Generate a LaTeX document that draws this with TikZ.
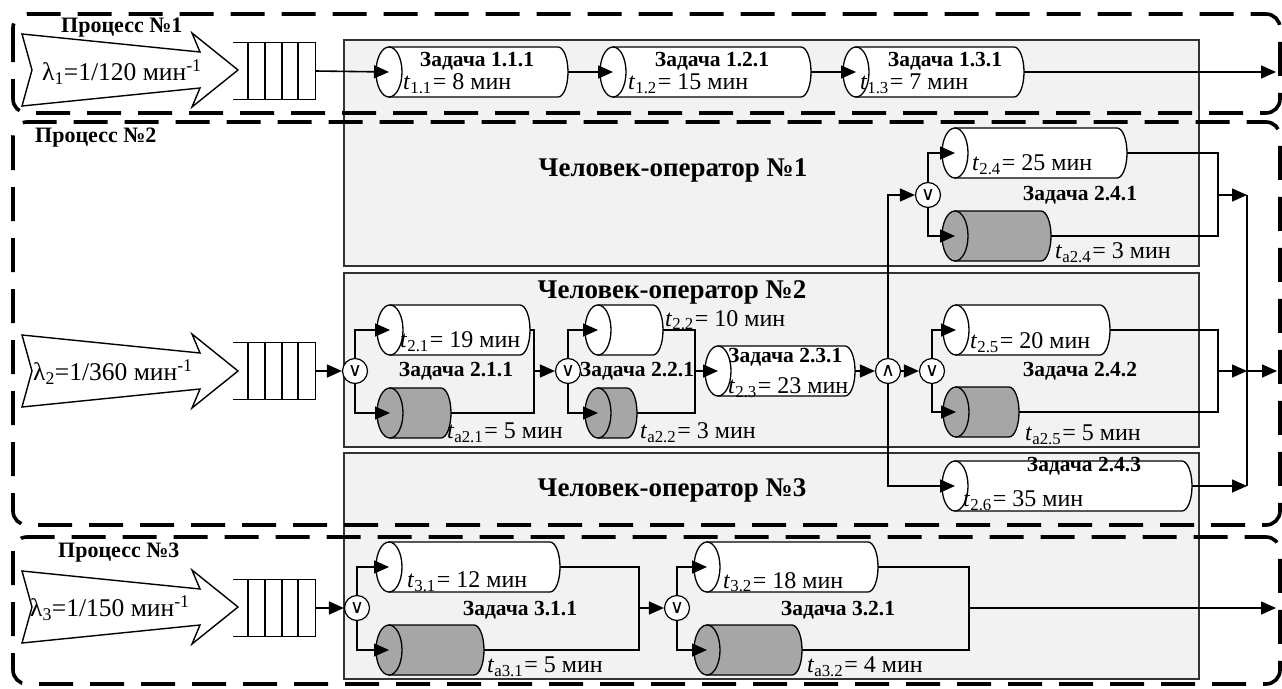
\documentclass[tikz,border=0pt]{standalone}
\usepackage{fontspec}
\setmainfont{Liberation Serif}
\newfontfamily\gatefont{DejaVu Sans}
\usetikzlibrary{arrows.meta,calc}
\definecolor{panelgray}{HTML}{F2F2F2}
\definecolor{cylgray}{HTML}{A6A6A6}
\newcommand\cyl[5]{% name, x left, x right, y centre, fill
  \path[draw=black, line width=1.3pt, fill=#5]
    (#2+13,#4-25) -- (#3-10,#4-25)
    arc[start angle=90, end angle=-90, x radius=10pt, y radius=25pt]
    -- (#2+13,#4+25) -- cycle;
  \draw[line width=1.3pt, fill=#5] (#2+13,#4) ellipse[x radius=13pt, y radius=25pt];
  \node[inner sep=0pt, minimum width={(#3-#2)*1pt}, minimum height=50pt] (#1) at ({(#2+#3)/2},#4) {};
  \coordinate (#1-in) at (#2+13,#4);
  \coordinate (#1-out) at (#3,#4);
}
\newcommand\queue[3]{% name, x left, y centre
  \node[inner sep=0pt, minimum width=82pt, minimum height=56pt] (#1) at (#2+41,#3) {};
  \draw[line width=1.2pt] (#1.north west) -- (#1.north east) -- (#1.south east) -- (#1.south west);
  \foreach \d in {15,32,49,65} \draw[line width=1.2pt] (#2+\d,#3-28) -- (#2+\d,#3+28);
}
\newcommand\bigarrow[2]{% name, y centre
  \draw[line width=1.4pt, fill=white] (22,#2-36) -- (200,#2-18) -- (192,#2-37) -- (238,#2)
    -- (192,#2+37) -- (200,#2+18) -- (22,#2+36) -- (32,#2) -- cycle;
  \coordinate (#1) at (238,#2);
}
\newcommand\tv[2]{\textit{t}\textsubscript{#1}\kern1pt= #2 мин}
\begin{document}
\begin{tikzpicture}[x=1pt,y=-1pt,
  panel/.style={draw=black!80, line width=1.3pt, fill=panelgray},
  proc/.style={draw=black, line width=3.6pt, dash pattern=on 34pt off 17pt, rounded corners=14pt},
  conn/.style={line width=1.6pt},
  arr/.style={conn, -{Triangle[length=15pt,width=13pt]}},
  gate/.style={circle, draw, line width=1.2pt, fill=white, minimum size=25pt, inner sep=0pt, font=\gatefont\fontsize{19}{19}\selectfont},
  task/.style={font=\bfseries\fontsize{21.5}{21.5}\selectfont, inner sep=0pt},
  oper/.style={font=\bfseries\fontsize{27}{27}\selectfont, inner sep=0pt},
  plabel/.style={font=\bfseries\fontsize{22}{22}\selectfont, inner sep=0pt, anchor=west},
  tval/.style={font=\fontsize{24}{24}\selectfont, inner sep=0pt, anchor=west},
  lam/.style={font=\fontsize{25.5}{25.5}\selectfont, inner sep=0pt, anchor=west},
]
\useasboundingbox (0,0) rectangle (1282,688);
% operator panels
\node[panel, minimum width=855pt, minimum height=226pt, inner sep=0pt] (op1) at (771.5,153) {};
\node[panel, minimum width=855pt, minimum height=174pt, inner sep=0pt] (op2) at (771.5,360) {};
\node[panel, minimum width=855pt, minimum height=226pt, inner sep=0pt] (op3) at (771.5,566) {};
\node[oper] (op1t) at (673,170) {Человек-оператор №1};
\node[oper] (op2t) at (672,292) {Человек-оператор №2};
\node[oper] (op3t) at (672,490) {Человек-оператор №3};
% process boxes
\draw[proc] (13,14) rectangle (1280,113);
\draw[proc] (13,122) rectangle (1280,525);
\draw[proc] (13,537) rectangle (1280,684);
% ---------------- process 1
\bigarrow{a1}{70}
\node[lam] (l1) at (42,72) {λ\textsubscript{1}=1/120 мин\textsuperscript{-1}};
\node[plabel] (p1) at (61,28) {Процесс №1};
\queue{q1}{233}{71}
\cyl{c111}{376}{568}{72}{white}
\cyl{c121}{600}{811}{72}{white}
\cyl{c131}{843}{1024}{72}{white}
\coordinate (o1) at (1276,72);
\draw[arr] (q1.east) -- (c111-in);
\draw[arr] (c111-out) -- (c121-in);
\draw[arr] (c121-out) -- (c131-in);
\draw[arr] (c131-out) -- (o1);
\node[task] at (477,61) {Задача 1.1.1};
\node[task] at (712,61) {Задача 1.2.1};
\node[task] at (945,61) {Задача 1.3.1};
\node[tval] at (403,84) {\tv{1.1}{8}};
\node[tval] at (628,84) {\tv{1.2}{15}};
\node[tval] at (860,84) {\tv{1.3}{7}};
% ---------------- process 2
\node[plabel] (p2) at (35,138) {Процесс №2};
\bigarrow{a2}{371}
\node[lam] (l2) at (33,372) {λ\textsubscript{2}=1/360 мин\textsuperscript{-1}};
\queue{q2}{233}{371}
\cyl{c21}{377}{530}{330}{white}
\cyl{c21a}{377}{451}{413}{cylgray}
\cyl{c22}{585}{663}{330}{white}
\cyl{c22a}{585}{637}{413}{cylgray}
\cyl{c231}{705}{855}{371}{white}
\cyl{c241}{942}{1127}{153}{white}
\cyl{c241a}{942}{1051}{236}{cylgray}
\cyl{c25}{943}{1110}{330}{white}
\cyl{c25a}{943}{1019}{412}{cylgray}
\cyl{c243}{942}{1192}{486}{white}
\node[gate] (g21) at (355,371) {∨};
\node[gate] (g22) at (568,371) {∨};
\node[gate] (gand) at (888,371) {∧};
\node[gate] (g242) at (932,371) {∨};
\node[gate] (g241) at (928,195) {∨};
\coordinate (b21) at (534,371);
\coordinate (b22) at (695,371);
\coordinate (b241) at (1218,195);
\coordinate (b242) at (1218,371);
\coordinate (k1) at (1247,195);
\coordinate (k2) at (1247,371);
\coordinate (k3) at (1247,486);
\coordinate (o2) at (1277,371);
\draw[arr] (q2.east) -- (g21.west);
\draw[arr] (g21.north) |- (c21-in);
\draw[arr] (g21.south) |- (c21a-in);
\draw[conn] (c21-out) -| (b21) |- (c21a-out);
\draw[arr] (b21) -- (g22.west);
\draw[arr] (g22.north) |- (c22-in);
\draw[arr] (g22.south) |- (c22a-in);
\draw[conn] (c22-out) -| (b22) |- (c22a-out);
\draw[arr] (b22) -- (c231-in);
\draw[arr] (c231-out) -- (gand.west);
\draw[arr] (gand.east) -- (g242.west);
\draw[arr] (gand.north) |- (g241.west);
\draw[arr] (gand.south) |- (c243-in);
\draw[arr] (g241.north) |- (c241-in);
\draw[arr] (g241.south) |- (c241a-in);
\draw[arr] (g242.north) |- (c25-in);
\draw[arr] (g242.south) |- (c25a-in);
\draw[conn] (c241-out) -| (b241) |- (c241a-out);
\draw[conn] (c25-out) -| (b242) |- (c25a-out);
\draw[arr] (b241) -- (k1);
\draw[arr] (b242) -- (k2);
\draw[arr] (c243-out) -- (k3);
\draw[conn] (k1) -- (k3);
\draw[arr] (k2) -- (o2);
\node[task] at (456,371) {Задача 2.1.1};
\node[task] at (637,371) {Задача 2.2.1};
\node[task, anchor=west] at (728,357) {Задача 2.3.1};
\node[task] at (1080,195) {Задача 2.4.1};
\node[task] at (1080,371) {Задача 2.4.2};
\node[task] at (1084,466) {Задача 2.4.3};
\node[tval] at (400,342) {\tv{2.1}{19}};
\node[tval] at (447,433) {\tv{а2.1}{5}};
\node[tval] at (665,320) {\tv{2.2}{10}};
\node[tval] at (640,433) {\tv{а2.2}{3}};
\node[tval] at (728,388) {\tv{2.3}{23}};
\node[tval] at (972,165) {\tv{2.4}{25}};
\node[tval] at (1055,253) {\tv{а2.4}{3}};
\node[tval] at (970,343) {\tv{2.5}{20}};
\node[tval] at (1025,435) {\tv{а2.5}{5}};
\node[tval] at (963,501) {\tv{2.6}{35}};
% ---------------- process 3
\node[plabel] (p3) at (58,553) {Процесс №3};
\bigarrow{a3}{607}
\node[lam] (l3) at (30,608) {λ\textsubscript{3}=1/150 мин\textsuperscript{-1}};
\queue{q3}{233}{608}
\cyl{c31}{376}{560}{567}{white}
\cyl{c31a}{376}{484}{650}{cylgray}
\cyl{c32}{694}{878}{567}{white}
\cyl{c32a}{694}{802}{650}{cylgray}
\node[gate] (g31) at (357,608) {∨};
\node[gate] (g32) at (677,608) {∨};
\coordinate (b31) at (639,608);
\coordinate (b32) at (969,608);
\coordinate (o3) at (1276,608);
\draw[arr] (q3.east) -- (g31.west);
\draw[arr] (g31.north) |- (c31-in);
\draw[arr] (g31.south) |- (c31a-in);
\draw[conn] (c31-out) -| (b31) |- (c31a-out);
\draw[arr] (b31) -- (g32.west);
\draw[arr] (g32.north) |- (c32-in);
\draw[arr] (g32.south) |- (c32a-in);
\draw[conn] (c32-out) -| (b32) |- (c32a-out);
\draw[arr] (b32) -- (o3);
\node[task] at (520,610) {Задача 3.1.1};
\node[task] at (838,610) {Задача 3.2.1};
\node[tval] at (407,582) {\tv{3.1}{12}};
\node[tval] at (487,667) {\tv{а3.1}{5}};
\node[tval] at (723,582) {\tv{3.2}{18}};
\node[tval] at (807,667) {\tv{а3.2}{4}};
\end{tikzpicture}
\end{document}
